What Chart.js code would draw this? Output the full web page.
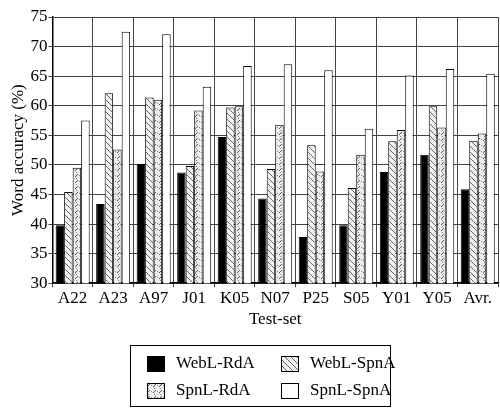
<!DOCTYPE html>
<html>
<head>
<meta charset="utf-8">
<script src="https://cdn.jsdelivr.net/npm/chart.js@4"></script>
<style>
  html, body { margin: 0; padding: 0; background: #fff; }
  #wrap { width: 500px; height: 409px; }
</style>
</head>
<body>
<div id="wrap"><canvas id="chart" width="500" height="409"></canvas></div>
<script>
const categories = ["A22", "A23", "A97", "J01", "K05", "N07", "P25", "S05", "Y01", "Y05", "Avr."];
const webLRdA  = [39.8, 43.4, 50.2, 48.7, 54.7, 44.3, 37.8, 39.8, 48.8, 51.7, 45.9];
const webLSpnA = [45.4, 62.1, 61.4, 49.8, 59.7, 49.3, 53.3, 46.1, 54.0, 59.9, 54.1];
const spnLRdA  = [49.5, 52.6, 61.0, 59.2, 59.9, 56.8, 48.9, 51.7, 55.9, 56.3, 55.3];
const spnLSpnA = [57.5, 72.5, 72.1, 63.2, 66.7, 67.0, 66.0, 56.1, 65.1, 66.2, 65.4];
const seriesNames = ["WebL-RdA", "WebL-SpnA", "SpnL-RdA", "SpnL-SpnA"];
const yTicks = [30, 35, 40, 45, 50, 55, 60, 65, 70, 75];

const serif = "'Liberation Serif', 'DejaVu Serif', serif";

// hatch fills
const makePattern = (draw) => {
  const c = document.createElement("canvas");
  c.width = 6; c.height = 6;
  const ctx = c.getContext("2d");
  draw(ctx);
  return ctx.createPattern(c, "repeat");
};

const backHatch = makePattern((ctx) => {
  ctx.fillStyle = "#f2f2f2";
  ctx.fillRect(0, 0, 6, 6);
  ctx.strokeStyle = "#666";
  ctx.lineWidth = 1;
  ctx.beginPath();
  ctx.moveTo(0, 0); ctx.lineTo(6, 6);
  ctx.moveTo(-3, 3); ctx.lineTo(3, 9);
  ctx.moveTo(3, -3); ctx.lineTo(9, 3);
  ctx.stroke();
});

const dotHatch = makePattern((ctx) => {
  ctx.fillStyle = "#ececec";
  ctx.fillRect(0, 0, 6, 6);
  ctx.fillStyle = "#888";
  ctx.fillRect(1, 1, 1, 1);
  ctx.fillRect(4, 4, 1, 1);
  ctx.strokeStyle = "#555";
  ctx.lineWidth = 1;
  ctx.beginPath();
  ctx.moveTo(6, 0); ctx.lineTo(3, 3);
  ctx.stroke();
});

const fills = ["#000", backHatch, dotHatch, "#fff"];
const values = [webLRdA, webLSpnA, spnLRdA, spnLSpnA];

const boxLegend = {
  id: "boxLegend",
  afterDraw(chart) {
    const ctx = chart.ctx;
    const x0 = 130, y0 = 345, w = 260, h = 61;
    ctx.save();
    ctx.strokeStyle = "#000";
    ctx.lineWidth = 1;
    ctx.strokeRect(x0 + 0.5, y0 + 0.5, w, h);
    ctx.font = "17px " + serif;
    ctx.textBaseline = "middle";
    ctx.fillStyle = "#000";
    chart.data.datasets.forEach((ds, i) => {
      const col = i % 2, row = Math.floor(i / 2);
      const sx = x0 + 17 + col * 134, sy = y0 + 11 + row * 27;
      ctx.fillStyle = ds.backgroundColor;
      ctx.fillRect(sx, sy, 18, 16);
      ctx.strokeStyle = "#000";
      ctx.strokeRect(sx + 0.5, sy + 0.5, 17, 15);
      ctx.fillStyle = "#000";
      ctx.fillText(ds.label, sx + 29, sy + 8);
    });
    ctx.restore();
  },
};

new Chart(document.getElementById("chart"), {
  type: "bar",
  data: {
    labels: categories,
    datasets: seriesNames.map((name, i) => ({
      label: name,
      data: values[i],
      backgroundColor: fills[i],
      borderColor: "#000",
      borderWidth: 1,
      borderSkipped: "bottom",
      categoryPercentage: 0.84,
      barPercentage: 1.0,
    })),
  },
  options: {
    responsive: false,
    animation: false,
    layout: { padding: { left: 4, right: 2, top: 17, bottom: 75 } },
    plugins: {
      legend: { display: false },
      tooltip: { enabled: false },
    },
    scales: {
      x: {
        grid: { color: "#444", lineWidth: 1, tickLength: 4, offset: true },
        border: { color: "#000", width: 1.5 },
        ticks: { color: "#000", font: { family: serif, size: 17 }, padding: 1, maxRotation: 0 },
        title: { display: true, text: "Test-set", color: "#000", font: { family: serif, size: 17 }, padding: { top: 0 } },
      },
      y: {
        min: 30,
        max: 75,
        afterBuildTicks: (axis) => { axis.ticks = yTicks.map((v) => ({ value: v })); },
        grid: { color: "#444", lineWidth: 1, tickLength: 4 },
        border: { color: "#000", width: 1.5 },
        ticks: { color: "#000", font: { family: serif, size: 17 }, padding: 1 },
        title: { display: true, text: "Word accuracy (%)", color: "#000", font: { family: serif, size: 17 }, padding: { bottom: 1 } },
      },
    },
  },
  plugins: [boxLegend],
});
</script>
</body>
</html>
